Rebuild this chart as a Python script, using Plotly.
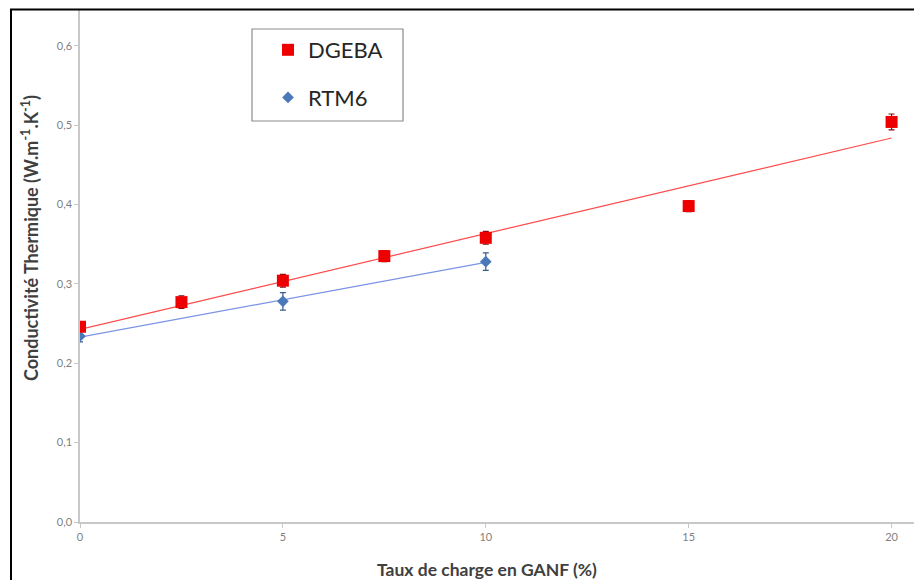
import numpy as np
import plotly.graph_objects as go

# ---- data ----
x_dgeba = [0, 2.5, 5, 7.5, 10, 15, 20]
y_dgeba = [0.246, 0.277, 0.304, 0.335, 0.358, 0.398, 0.504]
e_dgeba = [0.006, 0.008, 0.008, 0.007, 0.008, 0.007, 0.010]

x_rtm6 = [0, 5, 10]
y_rtm6 = [0.234, 0.278, 0.328]
e_rtm6 = [0.007, 0.011, 0.011]

x_ticks = [0, 5, 10, 15, 20]
y_ticks = [0.0, 0.1, 0.2, 0.3, 0.4, 0.5, 0.6]
y_tick_labels = ["0,0", "0,1", "0,2", "0,3", "0,4", "0,5", "0,6"]

x_title = "<b>Taux de charge en GANF (%)</b>"
y_title = "<b>Conductivité Thermique (W.m<sup>-1</sup>.K<sup>-1</sup>)</b>"

FONT = "Lato"

# linear trendlines (least squares fits of the data)
p_d = np.polyfit(x_dgeba, y_dgeba, 1)
p_r = np.polyfit(x_rtm6, y_rtm6, 1)
tx_d = [min(x_dgeba), max(x_dgeba)]
tx_r = [min(x_rtm6), max(x_rtm6)]

fig = go.Figure()

fig.add_trace(go.Scatter(x=tx_d, y=list(np.polyval(p_d, tx_d)), mode="lines",
                         line=dict(color="#ff4a4a", width=1.2), showlegend=False, hoverinfo="skip"))
fig.add_trace(go.Scatter(x=tx_r, y=list(np.polyval(p_r, tx_r)), mode="lines",
                         line=dict(color="#7b93e6", width=1.2), showlegend=False, hoverinfo="skip"))

fig.add_trace(go.Scatter(
    x=x_rtm6, y=y_rtm6, mode="markers", name="RTM6", legendgroup="b", legendrank=2,
    marker=dict(symbol="diamond", size=9, color="#4a78b8"),
    error_y=dict(type="data", array=e_rtm6, color="#3a5a8a", thickness=1.2, width=3),
))
fig.add_trace(go.Scatter(
    x=x_dgeba, y=y_dgeba, mode="markers", name="DGEBA", legendgroup="a", legendrank=1,
    marker=dict(symbol="square", size=12, color="#ee0000"),
    error_y=dict(type="data", array=e_dgeba, color="#7a1010", thickness=1.2, width=3),
))

# page body has an 8px margin: figure sized to fit inside the 922x580 window
OFF = 8
W, H = 914, 572
L, R, T, B = 72, 0, 2, 58
pw, ph = W - L - R, H - T - B

def sx(p):  # screen x pixel -> paper
    return (p - OFF - L) / pw

def sy(p):  # screen y pixel -> paper
    return (H - B - (p - OFF)) / ph

fig.update_layout(
    width=W, height=H,
    margin=dict(l=L, r=R, t=T, b=B, autoexpand=False),
    paper_bgcolor="white", plot_bgcolor="white",
    font=dict(family=FONT, color="#595959"),
    showlegend=True,
    legend=dict(
        x=sx(268), y=sy(29), xanchor="left", yanchor="top",
        bgcolor="rgba(0,0,0,0)", borderwidth=0,
        font=dict(family=FONT, size=22, color="#262626"),
        traceorder="grouped", tracegroupgap=16,
        itemsizing="trace",
    ),
    xaxis=dict(
        range=[0, 20.75], tickvals=x_ticks, ticktext=[str(v) for v in x_ticks],
        automargin=False,
        showgrid=False, zeroline=False, showline=True, linecolor="#c8c8c8", linewidth=1.5,
        ticks="outside", ticklen=4, tickcolor="#c8c8c8",
        tickfont=dict(family=FONT, size=11, color="#7f7f7f"),
    ),
    yaxis=dict(
        range=[0, 0.645], tickvals=y_ticks, ticktext=y_tick_labels,
        automargin=False,
        showgrid=False, zeroline=False, showline=True, linecolor="#c8c8c8", linewidth=1.5,
        ticks="outside", ticklen=4, tickcolor="#c8c8c8",
        tickfont=dict(family=FONT, size=11, color="#7f7f7f"),
    ),
    annotations=[
        dict(text=x_title, xref="paper", yref="paper", x=sx(487), y=sy(569),
             xanchor="center", yanchor="middle", showarrow=False,
             font=dict(family=FONT, size=17.5, color="#404040")),
        dict(text=y_title, xref="paper", yref="paper", x=sx(30), y=sy(238),
             xanchor="center", yanchor="middle", showarrow=False, textangle=-90,
             font=dict(family=FONT, size=18, color="#404040")),
    ],
    shapes=[
        # outer chart frame
        dict(type="rect", xref="paper", yref="paper",
             x0=sx(11), x1=sx(935), y0=sy(595), y1=sy(9.5),
             line=dict(color="black", width=2), fillcolor="rgba(0,0,0,0)", layer="above"),
        # legend box
        dict(type="rect", xref="paper", yref="paper",
             x0=sx(252), x1=sx(403), y0=sy(121), y1=sy(29),
             line=dict(color="#8c8c8c", width=1.2), fillcolor="rgba(0,0,0,0)", layer="above"),
    ],
)

fig.write_html("out.html")
